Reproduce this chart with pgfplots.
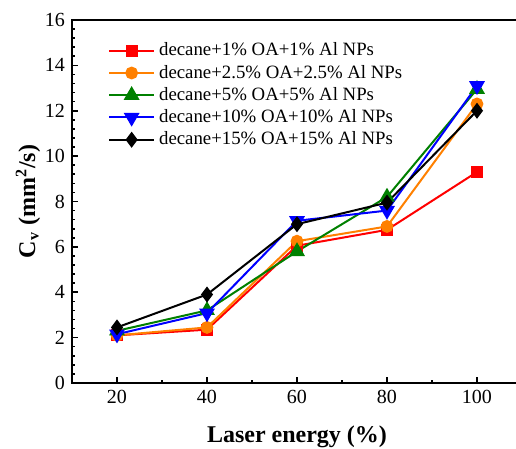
\documentclass[border=0pt]{standalone}
\usepackage{pgfplots}
\pgfplotsset{compat=1.18}
\usepackage{fontspec}
\setmainfont{Liberation Serif}
\definecolor{cred}{RGB}{255,0,0}
\definecolor{corange}{RGB}{255,128,0}
\definecolor{cgreen}{RGB}{0,128,0}
\definecolor{cblue}{RGB}{0,0,255}
\begin{document}
\begin{tikzpicture}
\begin{axis}[
  name=ax,
  scale only axis,
  width=225pt, height=181.5pt,
  xmin=10, xmax=110, ymin=0, ymax=16,
  xtick={20,40,60,80,100},
  ytick={0,2,4,6,8,10,12,14,16},
  minor x tick num=1,
  minor y tick num=4,
  tick align=inside,
  xtick pos=bottom, ytick pos=left,
  major tick length=3pt, minor tick length=1.6pt,
  every tick/.style={line width=0.8pt, black},
  axis line style={line width=1pt},
  /pgf/number format/assume math mode=true,
  tick label style={font=\fontsize{10}{12}\selectfont},
  xlabel={\textbf{Laser energy (\%)}},
  ylabel={\textbf{C\textsubscript{v} (mm\textsuperscript{2}/s)}},
  label style={font=\fontsize{12}{14}\selectfont},
  xlabel style={yshift=-4.5pt},
  ylabel style={yshift=-4.5pt},
  legend cell align=left,
  legend style={at={(0.075,0.955)}, anchor=north west, draw=none, fill=none,
    font=\fontsize{9.4}{11}\selectfont, row sep=-0.9pt, inner sep=1pt},
  legend image code/.code={\draw[mark repeat=2,mark phase=2] plot coordinates {(0pt,0pt)(11.25pt,0pt)(22.5pt,0pt)};},
]
\addplot[cred, line width=1pt, mark=square*, mark size=2.5pt, mark options={solid}] coordinates {(20,2.1)(40,2.35)(60,6.05)(80,6.75)(100,9.3)};
\addlegendentry{decane+1\% OA+1\% Al NPs}
\addplot[corange, line width=1pt, mark=*, mark size=2.7pt] coordinates {(20,2.1)(40,2.45)(60,6.25)(80,6.9)(100,12.3)};
\addlegendentry{decane+2.5\% OA+2.5\% Al NPs}
\addplot[cgreen, line width=1pt, mark=triangle*, mark size=3.6pt] coordinates {(20,2.3)(40,3.2)(60,5.8)(80,8.2)(100,12.95)};
\addlegendentry{decane+5\% OA+5\% Al NPs}
\addplot[cblue, line width=1pt, mark=triangle*, mark size=3.6pt, mark options={rotate=180}] coordinates {(20,2.15)(40,3.08)(60,7.15)(80,7.6)(100,13.1)};
\addlegendentry{decane+10\% OA+10\% Al NPs}
\addplot[black, line width=1pt, mark=diamond*, mark size=3.2pt] coordinates {(20,2.45)(40,3.9)(60,7.0)(80,7.95)(100,12.0)};
\addlegendentry{decane+15\% OA+15\% Al NPs}
\end{axis}
\pgfresetboundingbox
\path[use as bounding box] ([xshift=-36pt,yshift=-33pt]ax.south west) rectangle ([xshift=-3pt,yshift=10pt]ax.north east);
\end{tikzpicture}
\end{document}
